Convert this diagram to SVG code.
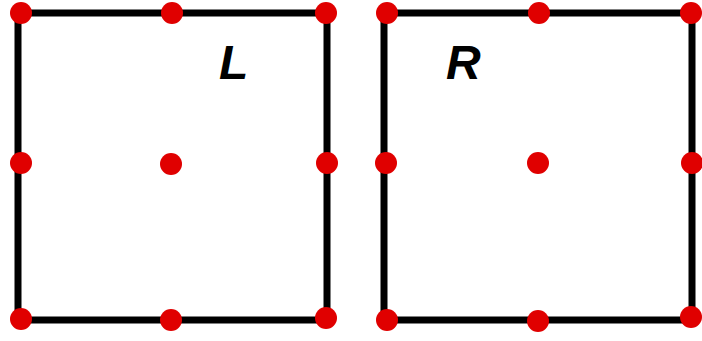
<svg xmlns="http://www.w3.org/2000/svg" width="702" height="341" viewBox="0 0 702 341">
<style>
.edge{fill:none;stroke:#000;stroke-width:7;stroke-linecap:square}
.pt{fill:#e00000}
.lbl{font-family:"Liberation Sans",Arial,sans-serif;font-weight:bold;font-style:italic;font-size:48px;fill:#000}
</style>
<rect width="702" height="341" fill="#fff"/>
<g id="connectors">
<rect class="edge" x="18" y="13" width="309" height="307"/>
<rect class="edge" x="384" y="13" width="308" height="307"/>
</g>
<g id="L">
<circle class="pt" cx="21" cy="13" r="11"/>
<circle class="pt" cx="172" cy="13" r="11"/>
<circle class="pt" cx="326" cy="13" r="11"/>
<circle class="pt" cx="21" cy="163" r="11"/>
<circle class="pt" cx="171" cy="164" r="11"/>
<circle class="pt" cx="327" cy="163" r="11"/>
<circle class="pt" cx="21" cy="319" r="11"/>
<circle class="pt" cx="171" cy="320" r="11"/>
<circle class="pt" cx="326" cy="318" r="11"/>
<text class="lbl" x="219" y="79">L</text>
</g>
<g id="R">
<circle class="pt" cx="387" cy="13" r="11"/>
<circle class="pt" cx="539" cy="13" r="11"/>
<circle class="pt" cx="691" cy="13" r="11"/>
<circle class="pt" cx="386" cy="163" r="11"/>
<circle class="pt" cx="538" cy="163" r="11"/>
<circle class="pt" cx="692" cy="163" r="11"/>
<circle class="pt" cx="387" cy="320" r="11"/>
<circle class="pt" cx="538" cy="321" r="11"/>
<circle class="pt" cx="691" cy="317" r="11"/>
<text class="lbl" x="446" y="79">R</text>
</g>
</svg>
